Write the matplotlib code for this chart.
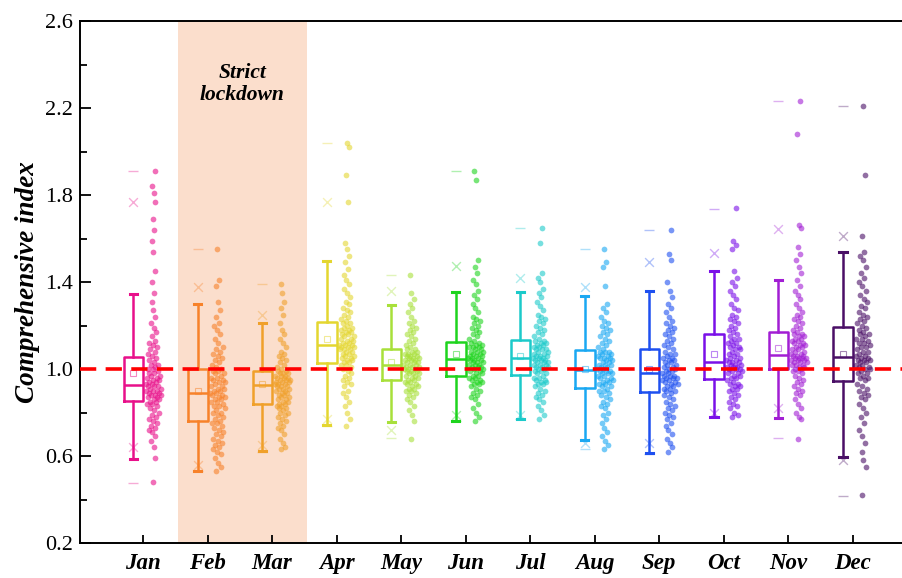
import numpy as np
import matplotlib.pyplot as plt

months = ["Jan", "Feb", "Mar", "Apr", "May", "Jun",
          "Jul", "Aug", "Sep", "Oct", "Nov", "Dec"]

colors = ["#E8108A", "#F7822A", "#F0A02A", "#E4D630", "#A8E03A", "#1ED41E",
          "#1CCACA", "#1AA8F2", "#1E50F0", "#7A10E8", "#A21ED4", "#4A0F66"]

# box statistics
q1 = [0.853, 0.76, 0.84, 1.028, 0.949, 0.968, 0.972, 0.913, 0.894, 0.954, 1.0, 0.945]
med = [0.926, 0.89, 0.926, 1.11, 1.018, 1.046, 1.05, 0.995, 0.981, 1.032, 1.064, 1.055]
q3 = [1.055, 1.0, 0.99, 1.216, 1.09, 1.124, 1.133, 1.087, 1.092, 1.16, 1.17, 1.193]
whislo = [0.586, 0.53, 0.623, 0.742, 0.756, 0.76, 0.77, 0.674, 0.614, 0.78, 0.775, 0.595]
whishi = [1.345, 1.30, 1.21, 1.497, 1.294, 1.354, 1.354, 1.336, 1.359, 1.45, 1.41, 1.538]
means = [0.98, 0.90, 0.93, 1.14, 1.03, 1.07, 1.06, 1.0, 1.0, 1.069, 1.097, 1.07]
p1 = [0.64, 0.56, 0.65, 0.77, 0.72, 0.79, 0.79, 0.66, 0.66, 0.80, 0.82, 0.58]
p99 = [1.77, 1.377, 1.248, 1.768, 1.36, 1.474, 1.418, 1.377, 1.49, 1.533, 1.644, 1.61]
vmin = [0.476, 0.53, 0.62, 0.74, 0.683, 0.76, 0.77, 0.63, 0.61, 0.78, 0.683, 0.416]
vmax = [1.91, 1.55, 1.39, 2.04, 1.43, 1.91, 1.648, 1.55, 1.64, 1.736, 2.23, 2.21]

# individual points (x100)
jan = """48 59 64 67 69 71 72 73 74 75 76 77 78 79 80 81 82 83 84 84
85 85 86 86 87 87 88 88 88 89 89 90 90 90 91 91 92 92 92 93
93 94 94 95 95 96 96 97 97 98 98 99 100 100 101 102 102 103 104 105
106 107 108 109 110 111 112 113 115 117 119 121 124 127 131 135 140 145 154 159 164 169 177 181 184 191"""
feb = """53 55 57 59 61 62 63 64 65 66 67 68 69 70 71 72 73 74 75 75
76 77 78 79 80 80 81 82 83 83 84 85 85 86 86 87 87 88 88 89
89 90 90 91 91 92 92 93 94 94 95 95 96 96 97 98 98 99 99 100
101 102 103 104 105 106 107 108 109 110 112 114 116 118 120 121 124 127 131 138 141 155"""
mar = """63 64 66 68 70 72 73 74 75 76 77 78 79 80 80 81 82 82 83 83
84 84 85 85 86 86 87 87 88 88 89 89 90 90 91 91 91 92 92 92
93 93 93 94 94 94 95 95 95 96 96 96 97 97 97 98 98 98 99 99
100 101 102 103 104 105 106 107 108 110 112 114 116 118 121 125 128 131 135 139"""
apr = """74 77 80 83 85 87 89 90 92 93 94 95 96 97 98 99 100 101 102 102
103 103 104 104 105 105 106 106 107 107 108 108 109 109 109 110 110 110 111 111
111 112 112 113 113 114 114 115 115 116 116 117 117 118 118 119 119 120 121 121
122 123 124 125 126 127 128 130 131 133 135 137 139 141 143 146 149 152 155 158 177 189 202 204"""
may = """68 76 79 81 83 85 86 87 88 89 90 90 91 91 92 92 93 93 94 94
95 95 96 96 97 97 98 98 98 99 99 99 100 100 100 101 101 101 102 102
102 103 103 103 104 104 104 105 105 105 106 106 106 107 107 107 108 108 109 109
110 111 112 113 114 115 116 117 118 119 120 121 122 124 126 128 130 132 135 143"""
jun = """76 78 80 82 84 86 87 88 89 90 91 92 93 93 94 94 95 95 96 96
97 97 98 98 99 99 100 100 101 101 101 102 102 102 103 103 103 104 104 104
105 105 105 106 106 106 107 107 108 108 108 109 109 110 110 110 111 111 112 112
113 114 115 116 117 118 119 120 121 122 123 124 126 128 130 132 134 136 139 141 144 147 150 187 191"""
jul = """77 79 81 83 85 86 87 88 89 90 91 92 93 93 94 94 95 95 96 96
97 98 98 99 99 100 100 101 101 101 102 102 102 103 103 103 104 104 104 105
105 105 106 106 106 107 107 108 108 109 109 109 110 110 111 111 112 112 113 113
114 115 116 117 118 119 120 121 122 123 124 125 127 129 131 133 135 137 140 142 144 158 165"""
aug = """63 65 67 69 71 73 75 77 79 80 82 83 84 85 86 87 88 89 90 90
91 92 92 93 93 94 94 95 95 96 96 97 97 98 98 98 99 99 99 100
100 101 101 102 102 102 103 103 104 104 105 105 105 106 106 107 107 108 108 108
109 110 111 112 113 114 115 116 117 118 119 120 121 122 124 126 128 130 138 147 149 155"""
sep = """62 64 66 68 70 72 74 75 77 78 79 80 81 82 83 84 85 86 87 88
89 90 90 91 91 92 92 93 93 94 94 95 95 96 96 96 97 97 97 98
98 99 99 100 100 101 101 102 102 103 103 104 104 105 105 106 107 107 108 109
110 111 112 113 114 115 116 117 118 119 120 121 122 124 126 128 130 133 136 140 150 153 164"""
oct_ = """78 79 80 82 83 84 85 86 87 88 89 90 91 91 92 92 93 93 94 95
96 96 97 97 98 98 99 99 100 100 100 101 101 101 102 102 102 103 103 103
104 104 105 105 106 107 107 108 109 109 110 110 111 112 112 113 114 114 115 116
117 118 119 120 121 122 123 124 125 127 128 130 132 134 136 138 140 142 145 155 157 159 174"""
nov = """68 77 78 80 82 84 86 88 89 90 91 92 93 94 95 96 97 98 99 99
100 100 101 101 102 102 102 103 103 103 104 104 104 105 105 105 105 106 106 106
107 107 108 108 109 109 110 110 111 111 112 112 113 113 114 114 115 115 116 116
117 118 119 120 121 122 123 124 125 126 128 130 132 134 136 138 141 144 147 150 153 156 165 166 208 223"""
dec = """42 55 58 62 66 69 72 75 78 80 82 84 86 87 88 89 90 91 92 93
95 96 96 97 98 98 99 100 100 101 101 102 102 103 103 104 104 104 105 105
106 106 107 108 108 109 110 110 111 112 112 113 114 114 115 116 116 117 118 119
120 121 122 123 124 125 126 128 129 131 132 134 136 138 140 142 144 147 150 152 154 161 189 221"""

points = [np.array(s.split(), float) / 100
          for s in [jan, feb, mar, apr, may, jun, jul, aug, sep, oct_, nov, dec]]

fig = plt.figure(figsize=(9.03, 5.78), dpi=100)
ax = fig.add_axes([80 / 903, 35 / 578, 823 / 903, 522 / 578])

serif = "Liberation Serif"
pos = np.arange(1, 13)

ax.axvspan(1.54, 3.54, color="#FBDECC", zorder=0, lw=0)
ax.text(2.54, 2.31, "Strict\nlockdown", ha="center", va="center",
        fontsize=15.5, fontstyle="italic", fontweight="bold", family=serif,
        linespacing=1.1)

for i in range(12):
    c = colors[i]
    st = dict(med=med[i], q1=q1[i], q3=q3[i], whislo=whislo[i],
              whishi=whishi[i], mean=means[i], fliers=[])
    ax.bxp([st], positions=[pos[i] - 0.15], widths=0.3, capwidths=0.11,
           showmeans=True, patch_artist=False,
           boxprops=dict(color=c, lw=1.8),
           whiskerprops=dict(color=c, lw=1.8),
           capprops=dict(color=c, lw=2.2),
           medianprops=dict(color=c, lw=1.8),
           meanprops=dict(marker="s", markerfacecolor="none",
                          markeredgecolor=c, markersize=5, alpha=0.5,
                          markeredgewidth=0.8))
    xb = pos[i] - 0.15
    ax.scatter([xb, xb], [p1[i], p99[i]], marker="x", s=40, color=c,
               alpha=0.35, lw=1, zorder=3)
    ax.scatter([xb, xb], [vmin[i], vmax[i]], marker="_", s=50, color=c,
               alpha=0.35, lw=1, zorder=3)

    v = points[i]
    dens = np.array([np.sum(np.abs(v - x) < 0.04) for x in v], float)
    dens = np.sqrt(dens / dens.max())
    frac = (np.arange(len(v)) * 0.618034 + 0.3) % 1.0
    xs = pos[i] + 0.16 + 0.13 * dens * (2 * frac - 1)
    ax.scatter(xs, v, s=17, color=c, alpha=0.6, lw=0, zorder=3)

ax.axhline(1.0, color="#FF0000", lw=2.6, dashes=(4.5, 2.6), zorder=4)

ax.set_xlim(0.023, 12.78)
ax.set_ylim(0.2, 2.6)
ax.set_xticks(pos)
ax.set_xticklabels(months, fontsize=16.5, fontstyle="italic",
                   fontweight="bold", family=serif)
ax.set_yticks(np.arange(0.2, 2.61, 0.4))
ax.set_yticklabels([f"{t:.1f}" for t in np.arange(0.2, 2.61, 0.4)],
                   fontsize=16, family=serif)
ax.set_yticks(np.arange(0.4, 2.6, 0.4), minor=True)
ax.tick_params(axis="y", which="major", direction="in", length=8, width=1.3, pad=5)
ax.tick_params(axis="y", which="minor", direction="in", length=5, width=1.3)
ax.tick_params(axis="x", direction="in", length=6, width=1.3, pad=7)
ax.set_ylabel("Comprehensive index", fontsize=19.5, fontstyle="italic",
              fontweight="bold", family=serif, labelpad=4)

ax.spines["right"].set_visible(False)
for s in ["left", "bottom", "top"]:
    ax.spines[s].set_linewidth(1.4)

fig.savefig("out.png", dpi=100)
